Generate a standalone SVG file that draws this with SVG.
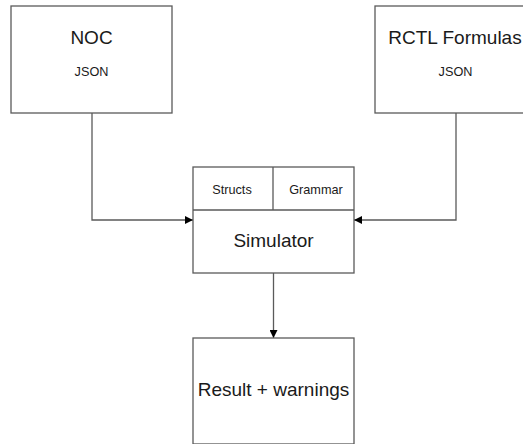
<svg xmlns="http://www.w3.org/2000/svg" width="523" height="444" viewBox="0 0 523 444">
<style>
.box{fill:#fff;stroke:#5a5a5a;stroke-width:1.3}
.edge{fill:none;stroke:#5a5a5a;stroke-width:1.3}
text{font-family:"Liberation Sans",Arial,sans-serif;fill:#1a1a1a;text-anchor:middle}
.big{font-size:19px}
.small{font-size:12.7px}
</style>
<defs>
<marker id="arr" viewBox="0 0 10 10" refX="10" refY="5" markerWidth="8" markerHeight="8" markerUnits="userSpaceOnUse" orient="auto">
<path d="M0,0 L10,5 L0,10 z" fill="#000"/>
</marker>
</defs>
<rect width="523" height="444" fill="#fff"/>
<g id="connectors">
<path class="edge" d="M92,113 V220 H193" marker-end="url(#arr)"/>
<path class="edge" d="M456,113 V220 H354" marker-end="url(#arr)"/>
<path class="edge" d="M273.5,273 V338" marker-end="url(#arr)"/>
</g>
<g id="noc">
<rect class="box" x="11" y="6" width="161" height="107"/>
<text class="big" x="91.5" y="44">NOC</text>
<text class="small" x="91.5" y="76">JSON</text>
</g>
<g id="rctl">
<rect class="box" x="375" y="6" width="161" height="107"/>
<text class="big" x="455" y="44">RCTL Formulas</text>
<text class="small" x="455.5" y="76">JSON</text>
</g>
<g id="simulator">
<rect class="box" x="193" y="167" width="161" height="106"/>
<path class="edge" d="M193,210 H354 M273,167 V210"/>
<text class="small" x="232" y="193.5">Structs</text>
<text class="small" x="316" y="193.5">Grammar</text>
<text class="big" x="273.5" y="246.5">Simulator</text>
</g>
<g id="result">
<rect class="box" x="193" y="338" width="161" height="106"/>
<text class="big" x="273.5" y="396">Result + warnings</text>
</g>
</svg>
